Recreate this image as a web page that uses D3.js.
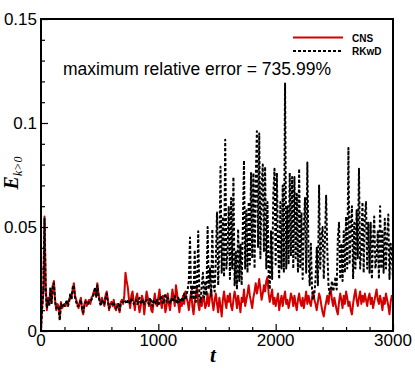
<!DOCTYPE html>
<html>
<head>
<meta charset="utf-8">
<script src="https://cdn.jsdelivr.net/npm/d3@7"></script>
<style>
  body { margin: 0; background: #fff; }
  svg { display: block; }
</style>
</head>
<body>
<script>
// sampled every 10 time units, values in units of 1e-3
const tStep = 10;
const cns = [
  1,12,18,55,22,10,16,13,20,14,
  22,24,15,10,13,12,6,14,11,12,
  13,12,14,13,15,17,16,20,23,17,
  15,13,11,14,16,10,8,13,15,12,
  14,15,13,16,17,19,20,17,23,18,
  15,13,16,14,12,17,19,15,10,13,
  14,12,15,11,10,13,12,9,14,15,
  13,17,28,24,21,15,11,17,19,14,
  10,16,18,13,9,12,17,15,8,14,
  19,16,12,15,10,9,14,18,13,12,
  16,20,14,11,17,15,9,12,18,13,
  10,15,20,16,12,22,18,13,9,15,
  12,17,13,19,16,14,10,15,19,12,
  8,14,18,21,13,10,16,12,17,15,
  11,13,18,12,16,20,14,10,15,18,
  13,9,16,12,7,15,19,14,11,17,
  14,18,12,10,15,19,16,11,17,13,
  9,16,14,20,12,15,18,22,17,14,
  11,16,19,23,18,21,25,20,15,18,
  22,19,24,26,18,14,17,20,13,16,
  12,15,18,10,14,17,12,16,19,13,
  15,11,14,18,16,12,17,13,10,15,
  18,14,12,16,11,15,19,13,17,14,
  12,16,19,15,13,10,14,18,16,12,
  9,7,11,14,17,13,18,20,15,12,
  16,13,10,8,14,18,15,11,17,13,
  19,16,12,14,10,8,13,17,20,15,
  12,16,19,13,17,14,18,15,12,16,
  18,13,16,11,14,17,20,15,13,17,
  14,10,16,13,18,15,12,8,14,17,
  15
];
const rkwd = [
  1,11,20,54,20,11,15,12,21,13,
  21,23,14,11,12,11,5,13,12,13,
  12,13,15,12,14,18,15,21,22,16,
  14,12,12,13,15,11,9,12,14,13,
  13,14,14,15,16,18,21,16,22,17,
  14,12,15,13,13,16,18,14,11,12,
  13,13,14,12,11,12,13,10,13,14,
  14,15,14,13,15,14,13,16,14,13,
  14,15,13,14,16,13,14,15,13,14,
  15,14,13,16,14,12,15,14,13,15,
  12,14,17,16,13,15,18,14,16,15,
  13,16,15,14,17,15,13,16,14,15,
  16,14,18,15,17,20,24,45,16,22,
  15,39,14,20,48,16,14,22,28,16,
  24,17,50,20,30,17,49,22,19,34,
  57,22,40,79,28,55,26,92,30,38,
  60,25,64,30,74,22,38,20,49,24,
  42,22,49,82,30,58,28,62,32,76,
  35,76,30,72,96,40,95,35,70,80,
  38,79,30,62,28,20,48,25,66,78,
  32,76,40,25,62,30,70,28,119,30,
  60,32,76,36,74,30,74,35,66,28,
  78,30,57,25,50,64,28,81,35,22,
  42,20,15,18,25,40,22,70,30,45,
  50,25,44,65,39,22,18,20,24,19,
  22,26,20,45,52,25,42,24,48,28,
  55,30,88,32,50,60,25,52,30,58,
  35,78,30,40,62,28,55,62,30,52,
  28,52,25,44,55,30,35,48,25,60,
  30,48,28,54,30,45,56,25,42,37,
  25
];
const xTicks = [0, 1000, 2000, 3000];
const yTicks = [0, 0.05, 0.1, 0.15];
const legendNames = ["CNS", "RKwD"];
const note = "maximum relative error = 735.99%";

const W = 415, H = 369;
const margin = {top: 19, right: 22, bottom: 38, left: 41};

const svg = d3.select("body").append("svg")
  .attr("width", W)
  .attr("height", H);

const x = d3.scaleLinear()
  .domain([0, 3000])
  .range([margin.left, W - margin.right]);

const y = d3.scaleLinear()
  .domain([0, 0.15])
  .range([H - margin.bottom, margin.top]);

const series = [
  {name: legendNames[0], values: cns, color: "#d40000", dash: null},
  {name: legendNames[1], values: rkwd, color: "#000", dash: "3,2"}
];

const line = d3.line()
  .x((d, i) => x(i * tStep))
  .y(d => y(d * 1e-3));

svg.append("defs").append("clipPath").attr("id", "clip")
  .append("rect")
    .attr("x", margin.left).attr("y", margin.top)
    .attr("width", x(3000) - x(0)).attr("height", y(0) - y(0.15));

const plot = svg.append("g").attr("clip-path", "url(#clip)");

plot.selectAll("path.series")
  .data(series)
  .join("path")
    .attr("class", "series")
    .attr("fill", "none")
    .attr("stroke", d => d.color)
    .attr("stroke-width", 2)
    .attr("stroke-dasharray", d => d.dash)
    .attr("stroke-linejoin", "round")
    .attr("d", d => line(d.values));

// axes, ticks pointing inward
const xAxis = g => g
  .attr("transform", `translate(0,${y(0)})`)
  .call(d3.axisBottom(x).tickValues(d3.range(0, 3001, 200)).tickSize(-4).tickFormat(""))
  .call(g => g.selectAll(".tick line").filter(d => d % 1000 == 0).attr("y2", -7))
  .call(g => g.select(".domain").remove());

const yAxis = g => g
  .attr("transform", `translate(${x(0)},0)`)
  .call(d3.axisLeft(y).tickValues(d3.range(0, 0.1501, 0.01)).tickSize(-4).tickFormat(""))
  .call(g => g.selectAll(".tick line").filter((d, i) => i % 5 == 0).attr("x2", 7))
  .call(g => g.select(".domain").remove());

svg.append("g").call(xAxis).selectAll("line").attr("stroke", "#000").attr("stroke-width", 1.2);
svg.append("g").call(yAxis).selectAll("line").attr("stroke", "#000").attr("stroke-width", 1.2);

svg.append("rect")
  .attr("x", x(0)).attr("y", y(0.15))
  .attr("width", x(3000) - x(0)).attr("height", y(0) - y(0.15))
  .attr("fill", "none")
  .attr("stroke", "#000")
  .attr("stroke-width", 2);

const labelFont = "17px 'Liberation Sans', Arial, sans-serif";

svg.append("g")
  .selectAll("text")
  .data(xTicks)
  .join("text")
    .attr("x", d => x(d))
    .attr("y", y(0) + 15)
    .attr("text-anchor", "middle")
    .style("font", labelFont)
    .text(d => d3.format("d")(d));

svg.append("g")
  .selectAll("text")
  .data(yTicks)
  .join("text")
    .attr("x", x(0) - 4)
    .attr("y", d => y(d) + 6)
    .attr("text-anchor", "end")
    .style("font", labelFont)
    .text(d => d == 0 ? "0" : d3.format("")(d));

// axis titles
svg.append("text")
  .attr("x", x(1500) - 4)
  .attr("y", 362)
  .attr("text-anchor", "middle")
  .style("font", "italic bold 21px 'Liberation Serif', 'Times New Roman', serif")
  .text("t");

const yt = svg.append("text")
  .attr("transform", "translate(18,173) rotate(-90)")
  .attr("text-anchor", "middle")
  .style("font", "italic bold 20px 'Liberation Serif', 'Times New Roman', serif");
yt.append("tspan").text("E");
yt.append("tspan")
  .attr("dy", 4)
  .style("font", "italic 12px 'Liberation Serif', 'Times New Roman', serif")
  .text("k>0");

// note
svg.append("text")
  .attr("x", 63)
  .attr("y", 75)
  .style("font", "17.5px 'Liberation Sans', Arial, sans-serif")
  .text(note);

// legend
const legend = svg.append("g")
  .selectAll("g")
  .data(series)
  .join("g")
    .attr("transform", (d, i) => `translate(293,${37.5 + i * 13.5})`);

legend.append("line")
  .attr("x1", 0).attr("x2", 50)
  .attr("stroke", d => d.color)
  .attr("stroke-width", 2)
  .attr("stroke-dasharray", d => d.dash);

legend.append("text")
  .attr("x", 59)
  .attr("y", 4)
  .style("font", "bold 10px 'Liberation Sans', Arial, sans-serif")
  .text(d => d.name);
</script>
</body>
</html>
